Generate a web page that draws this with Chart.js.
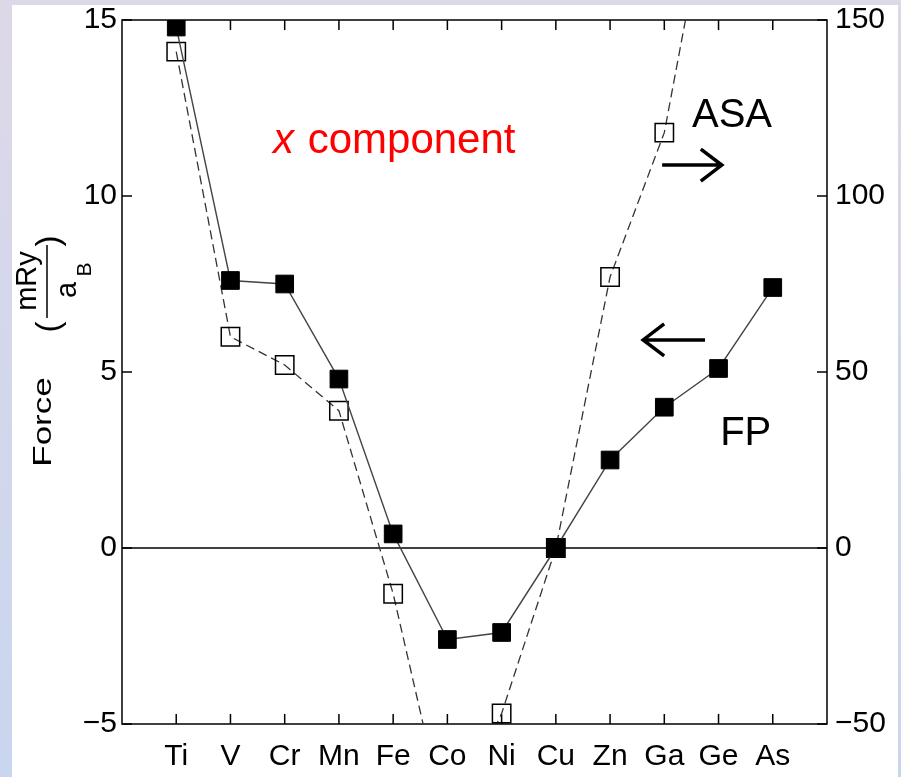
<!DOCTYPE html>
<html>
<head>
<meta charset="utf-8">
<script src="https://cdn.jsdelivr.net/npm/chart.js@4.4.1/dist/chart.umd.min.js"></script>
<style>
  html, body { margin: 0; padding: 0; }
  body {
    width: 901px; height: 777px; overflow: hidden; position: relative;
    background: linear-gradient(180deg, #ddd8e8 0%, #d2d7ec 55%, #c9d6ef 100%);
  }
  #panel { position: absolute; left: 12px; top: 5px; right: 3px; bottom: 0; background: #fff; }
  #chart { position: absolute; left: 0; top: 0; }
</style>
</head>
<body>
<div id="panel"></div>
<canvas id="chart" width="901" height="777"></canvas>
<script>
(function () {
    'use strict';

    // ---- data ----
    const elements = ['Ti', 'V', 'Cr', 'Mn', 'Fe', 'Co', 'Ni', 'Cu', 'Zn', 'Ga', 'Ge', 'As'];
    // FP force (left axis, mRy/aB)
    const forceFP = [14.8, 7.6, 7.5, 4.8, 0.4, -2.6, -2.4, 0.0, 2.5, 4.0, 5.1, 7.4];
    // ASA force (right axis), Co and Ge fall outside the frame
    const forceASA = [141, 60, 52, 39, -13, -80, -47, 0, 77, 118, 200, null];
    const leftTicks = [-5, 0, 5, 10, 15];
    const rightTicks = [-50, 0, 50, 100, 150];

    const FONT = "'Liberation Sans', Arial, Helvetica, sans-serif";
    const fmt = v => (v < 0 ? '\u2212' + Math.abs(v) : String(v));

    // fixed box sizes so the frame sits where it does in the figure
    const fixBox = (w, h) => s => {
        if (w) s.width = w;
        if (h) s.height = h;
        s.paddingTop = 0;
        s.paddingBottom = 0;
        s.paddingLeft = 0;
        s.paddingRight = 0;
    };

    // frame, inward ticks and zero line
    const framePlugin = {
        id: 'frame',
        beforeDatasetsDraw(chart) {
            const ctx = chart.ctx, a = chart.chartArea;
            const xs = chart.scales.x, ys = chart.scales.y, y2 = chart.scales.y2;
            ctx.save();
            ctx.strokeStyle = '#000';
            ctx.lineWidth = 1.5;
            ctx.strokeRect(a.left, a.top, a.right - a.left, a.bottom - a.top);

            // zero line
            const y0 = ys.getPixelForValue(0);
            ctx.beginPath();
            ctx.moveTo(a.left, y0);
            ctx.lineTo(a.right, y0);
            ctx.stroke();

            const tl = 10;
            ctx.beginPath();
            elements.forEach((e, i) => {
                const px = xs.getPixelForValue(i);
                ctx.moveTo(px, a.bottom); ctx.lineTo(px, a.bottom - tl);
                ctx.moveTo(px, a.top); ctx.lineTo(px, a.top + tl);
            });
            leftTicks.forEach(v => {
                const py = ys.getPixelForValue(v);
                ctx.moveTo(a.left, py); ctx.lineTo(a.left + tl, py);
            });
            rightTicks.forEach(v => {
                const py = y2.getPixelForValue(v);
                ctx.moveTo(a.right, py); ctx.lineTo(a.right - tl, py);
            });
            ctx.stroke();
            ctx.restore();
        },
        afterDraw(chart) {
            const ctx = chart.ctx;
            const xs = chart.scales.x, ys = chart.scales.y;
            const X = v => xs.getPixelForValue(v), Y = v => ys.getPixelForValue(v);

            ctx.save();
            ctx.textBaseline = 'alphabetic';
            ctx.textAlign = 'left';

            // "x component"
            ctx.fillStyle = '#ff0000';
            ctx.font = 'italic 42px ' + FONT;
            let tx = X(1.785);
            ctx.fillText('x', tx, Y(11.22));
            tx += ctx.measureText('x ').width;
            ctx.font = '42px ' + FONT;
            ctx.fillText('component', tx + 2, Y(11.22));

            ctx.fillStyle = '#000';
            ctx.font = '40px ' + FONT;
            ctx.fillText('ASA', X(9.51), Y(11.96));
            ctx.fillText('FP', X(10.03), Y(2.93));

            // arrows
            const arrow = (x1, x2, py) => {
                const dir = Math.sign(x2 - x1);
                ctx.beginPath();
                ctx.moveTo(x1, py);
                ctx.lineTo(x2, py);
                ctx.moveTo(x2 - dir * 21, py - 16);
                ctx.lineTo(x2, py);
                ctx.lineTo(x2 - dir * 21, py + 16);
                ctx.stroke();
            };
            ctx.strokeStyle = '#000';
            ctx.lineWidth = 3.5;
            ctx.lineJoin = 'miter';
            arrow(X(8.96), X(10.06), Y(10.88));
            arrow(X(9.75), X(8.61), Y(5.91));

            // rotated y title: Force (mRy / a_B)
            const rot = (text, px, py, font, sx) => {
                ctx.save();
                ctx.translate(px, py);
                ctx.rotate(-Math.PI / 2);
                ctx.scale(sx || 1, 1);
                ctx.font = font;
                ctx.textAlign = 'center';
                ctx.textBaseline = 'middle';
                ctx.fillText(text, 0, 0);
                ctx.restore();
            };
            rot('Force', 44, 422, '25px ' + FONT, 1.4);
            rot('(', 50, 327, '33px ' + FONT);
            rot(')', 50, 241, '33px ' + FONT);
            rot('mRy', 27.5, 281, '29px ' + FONT);
            rot('a', 67.6, 290, '29px ' + FONT);
            rot('B', 85.5, 269.5, '21px ' + FONT);
            ctx.lineWidth = 1.5;
            ctx.beginPath();
            ctx.moveTo(47, 245);
            ctx.lineTo(47, 318);
            ctx.stroke();
            ctx.restore();
        }
    };

    const tickFont = { family: FONT, size: 30 };

    new Chart(document.getElementById('chart').getContext('2d'), {
        type: 'line',
        data: {
            datasets: [{
                label: 'FP',
                data: elements.map((e, i) => ({ x: i, y: forceFP[i] })),
                yAxisID: 'y',
                borderColor: '#444',
                borderWidth: 1.4,
                pointStyle: 'rect',
                pointRadius: 12.5,
                pointBackgroundColor: '#000',
                pointBorderColor: '#000',
                pointBorderWidth: 1,
                tension: 0
            }, {
                label: 'ASA',
                data: elements.map((e, i) => ({ x: i, y: forceASA[i] })),
                yAxisID: 'y2',
                borderColor: '#333',
                borderWidth: 1.3,
                borderDash: [9, 5],
                pointStyle: 'rect',
                pointRadius: 13,
                pointBackgroundColor: 'rgba(0,0,0,0)',
                pointBorderColor: '#000',
                pointBorderWidth: 1.5,
                spanGaps: false,
                tension: 0
            }]
        },
        options: {
            responsive: false,
            animation: false,
            layout: { padding: { top: 20, left: 0, right: 0, bottom: 0 } },
            plugins: { legend: { display: false }, tooltip: { enabled: false } },
            scales: {
                x: {
                    type: 'linear', min: -1, max: 12,
                    afterBuildTicks: s => { s.ticks = [-1].concat(elements.map((e, i) => i), [12]).map(v => ({ value: v })); },
                    afterFit: fixBox(0, 53),
                    grid: { display: false, drawTicks: false },
                    border: { display: false },
                    ticks: {
                        callback: v => elements[v] || '',
                        font: tickFont, color: '#000', padding: 15,
                        autoSkip: false, maxRotation: 0
                    }
                },
                y: {
                    position: 'left', min: -5, max: 15,
                    afterBuildTicks: s => { s.ticks = leftTicks.map(v => ({ value: v })); },
                    afterFit: fixBox(122, 0),
                    grid: { display: false, drawTicks: false },
                    border: { display: false },
                    ticks: { callback: fmt, font: tickFont, color: '#000', padding: 5 }
                },
                y2: {
                    position: 'right', min: -50, max: 150,
                    afterBuildTicks: s => { s.ticks = rightTicks.map(v => ({ value: v })); },
                    afterFit: fixBox(74, 0),
                    grid: { display: false, drawTicks: false },
                    border: { display: false },
                    ticks: { callback: fmt, font: tickFont, color: '#000', padding: 8 }
                }
            }
        },
        plugins: [framePlugin]
    });
})();
</script>
</body>
</html>
